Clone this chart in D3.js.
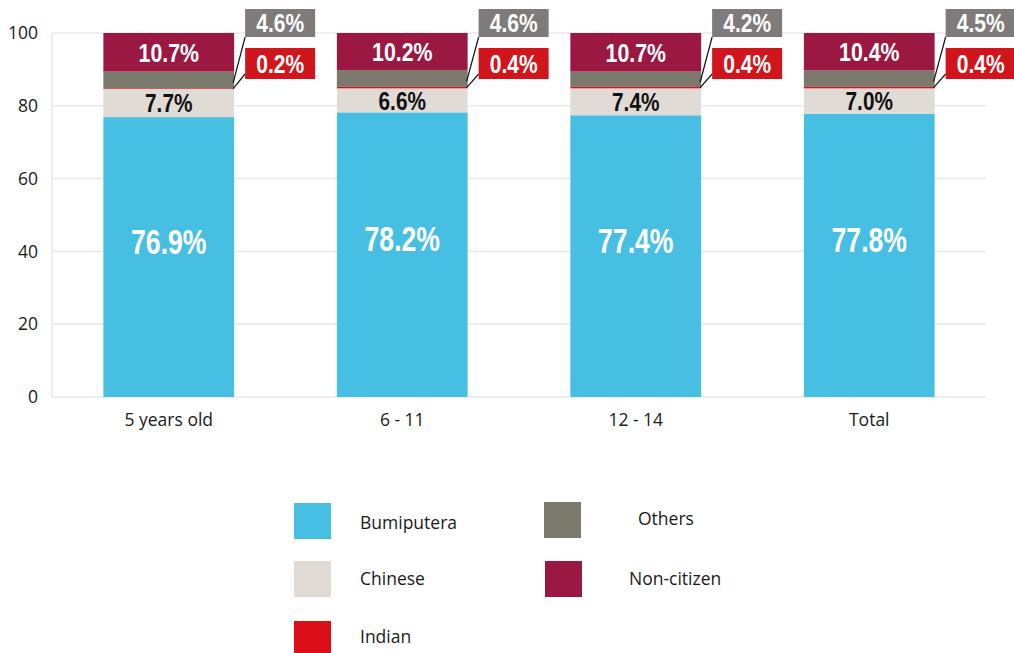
<!DOCTYPE html>
<html>
<head>
<meta charset="utf-8">
<script src="https://cdn.jsdelivr.net/npm/d3@7"></script>
<style>
  body { margin: 0; background: #fff; }
  .axis text { font-family: "Open Sans", "Liberation Sans", sans-serif; font-size: 17.5px; fill: #1a1a1a; }
  .val { font-family: "Liberation Sans", Arial, sans-serif; font-weight: bold; }
  .leg text { font-family: "Open Sans", "Liberation Sans", sans-serif; font-size: 17.5px; fill: #1a1a1a; }
</style>
</head>
<body>
<svg id="chart" width="1014" height="653"></svg>
<script>
// データ
var categories = ['5 years old', '6 - 11', '12 - 14', 'Total'];
var seriesNames = ['Bumiputera', 'Chinese', 'Indian', 'Others', 'Non-citizen'];
var bumiputera = [76.9, 78.2, 77.4, 77.8];
var chinese = [7.7, 6.6, 7.4, 7.0];
var indian = [0.2, 0.4, 0.4, 0.4];
var others = [4.6, 4.6, 4.2, 4.5];
var nonCitizen = [10.7, 10.2, 10.7, 10.4];
var yTicks = [0, 20, 40, 60, 80, 100];

var colors = {
  'Bumiputera': '#47bfe2',
  'Chinese': '#e0dbd4',
  'Indian': '#dc0f18',
  'Others': '#7b786c',
  'Non-citizen': '#9b1842'
};

var rows = categories.map(function(c, i) {
  return {
    cat: c,
    'Bumiputera': bumiputera[i],
    'Chinese': chinese[i],
    'Indian': indian[i],
    'Others': others[i],
    'Non-citizen': nonCitizen[i]
  };
});

var margin = { top: 33, left: 52, right: 28 };
var plotH = 364;
var plotW = 1014 - margin.left - margin.right;

var svg = d3.select('#chart');
var g = svg.append('g').attr('transform', 'translate(' + margin.left + ',' + margin.top + ')');

var x = d3.scaleBand().domain(categories).range([0, plotW]).paddingInner(0.44).paddingOuter(0.22);
var y = d3.scaleLinear().domain([0, 100]).range([plotH, 0]);

// 細字体の代わりに横方向に縮めたテキストを置く
function condensedText(sel, fx, fy, size, sx) {
  sel.attr('class', 'val')
    .attr('transform', function(d) { return 'translate(' + fx(d) + ',' + fy(d) + ') scale(' + sx + ',1)'; })
    .attr('dy', '0.36em')
    .attr('text-anchor', 'middle')
    .attr('font-size', size);
}

// グリッド
g.append('g').selectAll('line').data(yTicks).join('line')
  .attr('x1', 0).attr('x2', plotW)
  .attr('y1', function(d) { return y(d); }).attr('y2', function(d) { return y(d); })
  .attr('stroke', '#e8e8e8').attr('stroke-width', 1.5);
g.append('line').attr('x1', 0).attr('x2', 0).attr('y1', y(100)).attr('y2', y(0))
  .attr('stroke', '#e8e8e8').attr('stroke-width', 1.5);

// Y軸
var yAxis = g.append('g').attr('class', 'axis')
  .call(d3.axisLeft(y).tickValues(yTicks).tickSize(0).tickPadding(14));
yAxis.select('.domain').remove();

// X軸
var xAxis = g.append('g').attr('class', 'axis').attr('transform', 'translate(0,' + plotH + ')')
  .call(d3.axisBottom(x).tickSize(0).tickPadding(17));
xAxis.select('.domain').remove();

// 積み上げ
var stack = d3.stack().keys(seriesNames);
var series = stack(rows);

var layers = g.append('g').selectAll('g').data(series).join('g')
  .attr('fill', function(d) { return colors[d.key]; });

layers.selectAll('rect').data(function(d) { return d; }).join('rect')
  .attr('x', function(d) { return x(d.data.cat); })
  .attr('width', x.bandwidth())
  .attr('y', function(d) { return y(Math.min(d[1], 100)); })
  .attr('height', function(d) { return y(d[0]) - y(Math.min(d[1], 100)); });

// バー内ラベル
var inside = [
  { key: 'Bumiputera', color: '#fff', size: 35, shift: -16, sx: 0.76 },
  { key: 'Chinese', color: '#111', size: 26, shift: 0, sx: 0.8 },
  { key: 'Non-citizen', color: '#fff', size: 26, shift: 0, sx: 0.82 }
];
inside.forEach(function(o) {
  var s = series.find(function(d) { return d.key === o.key; });
  g.append('g').selectAll('text').data(s).join('text')
    .call(condensedText,
      function(d) { return x(d.data.cat) + x.bandwidth() / 2; },
      function(d) { return y((d[0] + Math.min(d[1], 100)) / 2) + o.shift; },
      o.size, o.sx)
    .attr('fill', o.color)
    .text(function(d) { return (d[1] - d[0]).toFixed(1) + '%'; });
});

// 外側ラベル（Others, Indian）
var outside = [
  { key: 'Others', fill: '#7f7b7b', top: -24, h: 28, lineY: 3, endY: 4 },
  { key: 'Indian', fill: '#d0161c', top: 15, h: 31, lineY: 0, endY: 26 }
];
var boxW = 70, gap = 11;
outside.forEach(function(o) {
  var s = series.find(function(d) { return d.key === o.key; });
  var lg = g.append('g').selectAll('g').data(s).join('g');
  lg.append('line')
    .attr('x1', function(d) { return x(d.data.cat) + x.bandwidth() - 1; })
    .attr('y1', function(d) { return y((d[0] + d[1]) / 2) + o.lineY; })
    .attr('x2', function(d) { return x(d.data.cat) + x.bandwidth() + gap; })
    .attr('y2', o.top + o.endY + (o.key === 'Others' ? o.h - 4 : 0))
    .attr('stroke', '#111').attr('stroke-width', 1.2);
  lg.append('rect')
    .attr('x', function(d) { return x(d.data.cat) + x.bandwidth() + gap; })
    .attr('y', o.top)
    .attr('width', boxW).attr('height', o.h)
    .attr('fill', o.fill);
  lg.append('text')
    .call(condensedText,
      function(d) { return x(d.data.cat) + x.bandwidth() + gap + boxW / 2; },
      function() { return o.top + o.h / 2; },
      25, 0.84)
    .attr('fill', '#fff')
    .text(function(d) { return (d[1] - d[0]).toFixed(1) + '%'; });
});

// 凡例
var legendPos = [
  { name: 'Bumiputera', x: 294, y: 503, tx: 360, ty: 523 },
  { name: 'Chinese', x: 294, y: 561, tx: 360, ty: 579 },
  { name: 'Indian', x: 294, y: 621, tx: 360, ty: 637 },
  { name: 'Others', x: 544, y: 502, tx: 638, ty: 519 },
  { name: 'Non-citizen', x: 545, y: 561, tx: 629, ty: 579 }
];
var leg = svg.append('g').attr('class', 'leg').selectAll('g').data(legendPos).join('g');
leg.append('rect')
  .attr('x', function(d) { return d.x; }).attr('y', function(d) { return d.y; })
  .attr('width', 37).attr('height', 36)
  .attr('fill', function(d) { return colors[d.name]; });
leg.append('text')
  .attr('x', function(d) { return d.tx; }).attr('y', function(d) { return d.ty; })
  .attr('dy', '0.36em')
  .text(function(d) { return d.name; });
</script>
</body>
</html>
